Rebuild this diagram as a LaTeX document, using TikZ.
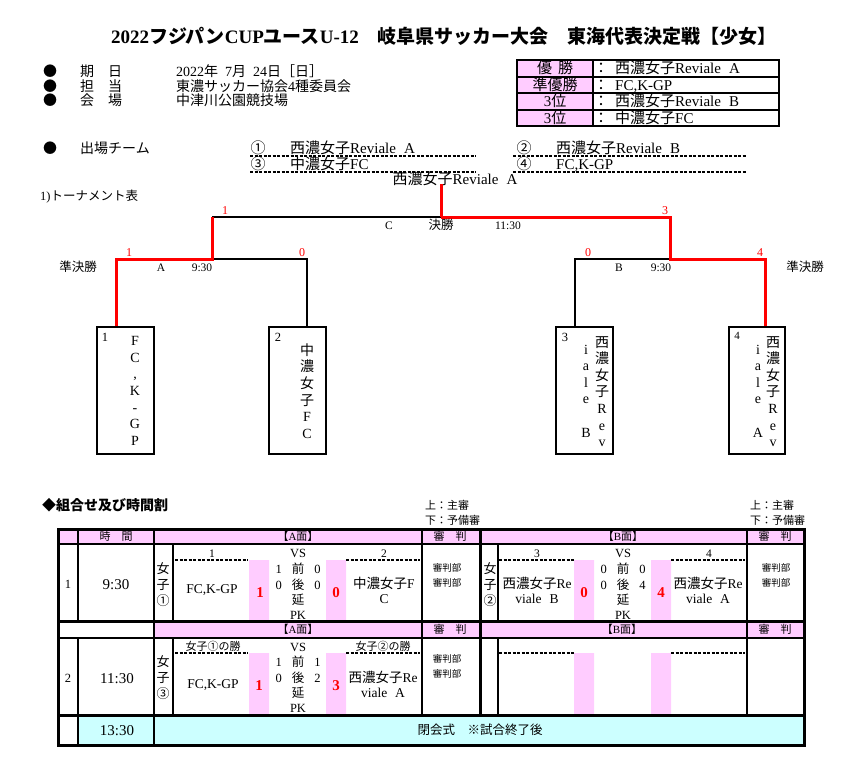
\documentclass[tikz,border=0pt]{standalone}
\usepackage{fontspec}
\setmainfont{Liberation Serif}
\newfontfamily\jpfont{Noto Sans CJK JP}
\newcommand{\jtxt}[1]{{\jpfont #1}}
\usepackage{tikz}
\usetikzlibrary{positioning}
\definecolor{winRed}{RGB}{255, 0, 0}
\definecolor{pinkFill}{RGB}{255, 204, 255}
\definecolor{cyanFill}{RGB}{204, 255, 255}
\tikzset{
    t_title/.style={
        inner sep=0pt,
        text height=13.5pt,
        text depth=0pt,
        font=\bfseries\fontsize{19}{21}\selectfont
    },
    t_l/.style={
        inner sep=0pt,
        text height=10.5pt,
        text depth=0pt,
        font=\fontsize{15}{17}\selectfont
    },
    t_m/.style={
        inner sep=0pt,
        text height=9.8pt,
        text depth=0pt,
        font=\fontsize{14}{16}\selectfont
    },
    t_s/.style={
        inner sep=0pt,
        text height=8.8pt,
        text depth=0pt,
        font=\fontsize{12.5}{15}\selectfont
    },
    t_xs/.style={
        inner sep=0pt,
        text height=7.7pt,
        text depth=0pt,
        font=\fontsize{11}{13}\selectfont
    },
    t_tiny/.style={
        inner sep=0pt,
        text height=8pt,
        text depth=0pt,
        font=\fontsize{11.5}{13}\selectfont
    },
    t_bold/.style={
        t_m,
        font=\bfseries\fontsize{14}{16}\selectfont
    },
    t_score/.style={
        t_l,
        text=winRed,
        font=\bfseries\fontsize{15}{17}\selectfont
    },
    t_red/.style={
        t_tiny,
        text=winRed,
        font=\fontsize{12}{14}\selectfont
    },
    t_vert/.style={
        inner sep=0pt,
        align=center,
        font=\fontsize{14}{16.6}\selectfont
    },
    t_vert_s/.style={
        inner sep=0pt,
        align=center,
        font=\fontsize{13}{16}\selectfont
    },
    t_team/.style={
        inner sep=0pt,
        align=center,
        font=\fontsize{13.5}{15}\selectfont
    },
    t_ref/.style={
        inner sep=0pt,
        align=center,
        font=\jpfont\fontsize{9.5}{15}\selectfont
    },
    team_box/.style={
        draw,
        line width=2pt,
        minimum width=57pt,
        minimum height=127pt,
        inner sep=0pt
    },
    win_line/.style={
        draw=winRed,
        line width=3pt
    },
    lose_line/.style={
        draw=black,
        line width=2pt
    },
    tbl_thick/.style={
        line width=3pt
    },
    tbl_mid/.style={
        line width=2pt
    },
    dash_line/.style={
        line width=1.3pt,
        dash pattern=on 3pt off 1.5pt
    }
}
\begin{document}
\begin{tikzpicture}[x=1pt, y=-1pt]
    \useasboundingbox (0,0) rectangle (852,760);

    \node[t_title] (title) at (444,37) {2022\jtxt{フジパン}CUP\jtxt{ユース}U-12\jtxt{　岐阜県サッカー大会　東海代表決定戦【少女】}};

    \node[t_m] (dot1) at (50,72) {\jtxt{●}};
    \node[t_m] (dot2) at (50,87) {\jtxt{●}};
    \node[t_m] (dot3) at (50,101) {\jtxt{●}};
    \node[t_m, anchor=west] (lab1) at (80,72) {\jtxt{期　日}};
    \node[t_m, anchor=west] (lab2) at (80,87) {\jtxt{担　当}};
    \node[t_m, anchor=west] (lab3) at (80,101) {\jtxt{会　場}};
    \node[t_m, anchor=west] (val1) at (176,72) {2022\jtxt{年}\hspace{7pt}7\jtxt{月}\hspace{7pt}24\jtxt{日［日］}};
    \node[t_m, anchor=west] (val2) at (176,87) {\jtxt{東濃サッカー協会}4\jtxt{種委員会}};
    \node[t_m, anchor=west] (val3) at (176,101) {\jtxt{中津川公園競技場}};

    \draw[line width=1.5pt, fill=pinkFill] (517,60) rectangle (593,126);
    \draw[line width=1.5pt] (517,60) rectangle (779,126);
    \draw[line width=1.2pt] (517,77) -- (779,77) (517,93) -- (779,93) (517,110) -- (779,110);
    \node[t_l] (res1) at (555,68.5) {\jtxt{優\hspace{6pt}勝}};
    \node[t_l] (res2) at (555,85) {\jtxt{準優勝}};
    \node[t_l] (res3) at (555,101.5) {3\jtxt{位}};
    \node[t_l] (res4) at (555,118) {3\jtxt{位}};
    \node[t_l] (col1) at (601,68.5) {\jtxt{：}};
    \node[t_l] (col2) at (601,85) {\jtxt{：}};
    \node[t_l] (col3) at (601,101.5) {\jtxt{：}};
    \node[t_l] (col4) at (601,118) {\jtxt{：}};
    \node[t_l, anchor=west] (win1) at (615,68.5) {\jtxt{西濃女子}Reviale\hspace{8pt}A};
    \node[t_l, anchor=west] (win2) at (615,85) {FC,K-GP};
    \node[t_l, anchor=west] (win3) at (615,101.5) {\jtxt{西濃女子}Reviale\hspace{8pt}B};
    \node[t_l, anchor=west] (win4) at (615,118) {\jtxt{中濃女子}FC};

    \node[t_m] (dot4) at (50,149) {\jtxt{●}};
    \node[t_m, anchor=west] (teams) at (80,149) {\jtxt{出場チーム}};
    \node[t_l] (e1) at (258,148) {\jtxt{①}};
    \node[t_l] (e2) at (524,148) {\jtxt{②}};
    \node[t_l] (e3) at (258,164) {\jtxt{③}};
    \node[t_l] (e4) at (524,164) {\jtxt{④}};
    \node[t_l, anchor=west] (e1n) at (290,148) {\jtxt{西濃女子}Reviale\hspace{8pt}A};
    \node[t_l, anchor=west] (e2n) at (556,148) {\jtxt{西濃女子}Reviale\hspace{8pt}B};
    \node[t_l, anchor=west] (e3n) at (290,164) {\jtxt{中濃女子}FC};
    \node[t_l, anchor=west] (e4n) at (556,164) {FC,K-GP};
    \draw[dash_line] (250,156) -- (476,156) (513,156) -- (746,156);
    \draw[dash_line] (250,172) -- (476,172) (513,172) -- (746,172);
    \node[t_l] (champ) at (455,179) {\jtxt{西濃女子}Reviale\hspace{8pt}A};

    \node[t_s, anchor=west] (tour) at (40,196) {1)\jtxt{トーナメント表}};

    \node[team_box] (b1) at (125.5,390.5) {};
    \node[team_box] (b2) at (297.5,390.5) {};
    \node[team_box] (b3) at (584.5,390.5) {};
    \node[team_box, minimum width=56pt] (b4) at (757,390.5) {};
    \node[t_s] (b1n) at (105,337) {1};
    \node[t_s] (b2n) at (278,337) {2};
    \node[t_s] (b3n) at (565,337) {3};
    \node[t_xs] (b4n) at (737,336) {4};
    \node[t_vert] (b1t) at (135,391) {F\\C\\,\\K\\-\\G\\P};
    \node[t_vert] (b2t) at (307,391) {\jtxt{中}\\\jtxt{濃}\\\jtxt{女}\\\jtxt{子}\\F\\C};
    \node[t_vert] (b3r) at (602,391.5) {\jtxt{西}\\\jtxt{濃}\\\jtxt{女}\\\jtxt{子}\\R\\e\\v};
    \node[t_vert] (b3l) at (586,391) {i\\a\\l\\e\\~\\B};
    \node[t_vert] (b4r) at (773,391.5) {\jtxt{西}\\\jtxt{濃}\\\jtxt{女}\\\jtxt{子}\\R\\e\\v};
    \node[t_vert] (b4l) at (758,391) {i\\a\\l\\e\\~\\A};

    \coordinate (fL) at (212,217);
    \coordinate (fin) at (441,217);
    \coordinate (fR) at (670,217);
    \coordinate (sLl) at (116,259);
    \coordinate (sLm) at (212,259);
    \coordinate (sLr) at (307,259);
    \coordinate (sRl) at (575,259);
    \coordinate (sRm) at (670,259);
    \coordinate (sRr) at (765,259);

    \draw[lose_line] (fL) -- (fin);
    \draw[lose_line] (sLm) -- (sLr) -- (sLr |- b2.north);
    \draw[lose_line] (b3.north -| sRl) -- (sRl) -- (sRm);
    \draw[win_line] (b1.north -| sLl) -- (sLl) -- (sLm) -- (fL);
    \draw[win_line] (b4.north -| sRr) -- (sRr) -- (sRm) -- (fR) -- (fin);
    \draw[win_line] (fin) -- (fin |- champ.south);

    \node[t_red] (fLs) at (225,210) {1};
    \node[t_red] (fRs) at (665,210) {3};
    \node[t_red] (b1s) at (129,252) {1};
    \node[t_red] (b2s) at (302,252) {0};
    \node[t_red] (b3s) at (588,252) {0};
    \node[t_red] (b4s) at (760,252) {4};
    \node[t_tiny] (gC) at (389,225) {C};
    \node[t_s] (gF) at (441,225) {\jtxt{決勝}};
    \node[t_tiny] (gCt) at (508,225) {11:30};
    \node[t_tiny] (gA) at (161,267) {A};
    \node[t_tiny] (gAt) at (202,267) {9:30};
    \node[t_tiny] (gB) at (619,267) {B};
    \node[t_tiny] (gBt) at (661,267) {9:30};
    \node[t_s] (semiL) at (78,267) {\jtxt{準決勝}};
    \node[t_s] (semiR) at (805,267) {\jtxt{準決勝}};

    \node[t_bold, anchor=west] (plan) at (42,506) {\jtxt{◆組合せ及び時間割}};
    \node[t_xs, anchor=west] (refA1) at (425,506) {\jtxt{上：主審}};
    \node[t_xs, anchor=west] (refA2) at (425,521) {\jtxt{下：予備審}};
    \node[t_xs, anchor=west] (refB1) at (750,506) {\jtxt{上：主審}};
    \node[t_xs, anchor=west] (refB2) at (750,521) {\jtxt{下：予備審}};

    \fill[pinkFill] (58,529) rectangle (804,544);
    \fill[pinkFill] (154,621) rectangle (804,638);
    \fill[pinkFill] (249,560) rectangle (269,621) (326,560) rectangle (346,621);
    \fill[pinkFill] (574,560) rectangle (594,621) (651,560) rectangle (671,621);
    \fill[pinkFill] (249,653) rectangle (269,715) (326,653) rectangle (346,715);
    \fill[pinkFill] (574,653) rectangle (594,715) (651,653) rectangle (671,715);
    \fill[cyanFill] (78,715) rectangle (804,745);

    \draw[tbl_mid] (58,544) -- (804,544) (58,638) -- (804,638);
    \draw[tbl_mid] (78,529) -- (78,621) (78,638) -- (78,745) (154,529) -- (154,745);
    \draw[tbl_mid] (173,544) -- (173,621) (173,638) -- (173,715);
    \draw[tbl_mid] (498,544) -- (498,621) (498,638) -- (498,715);
    \draw[tbl_mid] (422,529) -- (422,715) (747,529) -- (747,715);
    \draw[tbl_thick] (480,529) -- (480,715);
    \draw[tbl_thick] (58,621) -- (804,621) (58,715) -- (804,715);
    \draw[tbl_thick] (58,529) rectangle (804,745);
    \draw[dash_line] (175,560) -- (248,560) (346,560) -- (420,560);
    \draw[dash_line] (499,560) -- (574,560) (671,560) -- (745,560);
    \draw[dash_line] (175,653) -- (248,653) (346,653) -- (420,653);
    \draw[dash_line] (499,653) -- (574,653) (671,653) -- (745,653);

    \node[t_xs] (h1t) at (116,537) {\jtxt{時　間}};
    \node[t_xs] (h1a) at (298,537) {\jtxt{【}A\jtxt{面】}};
    \node[t_xs] (h1r) at (450,537) {\jtxt{審　判}};
    \node[t_xs] (h1b) at (623,537) {\jtxt{【}B\jtxt{面】}};
    \node[t_xs] (h1s) at (775,537) {\jtxt{審　判}};
    \node[t_xs] (h2a) at (298,630) {\jtxt{【}A\jtxt{面】}};
    \node[t_xs] (h2r) at (450,630) {\jtxt{審　判}};
    \node[t_xs] (h2b) at (622,630) {\jtxt{【}B\jtxt{面】}};
    \node[t_xs] (h2s) at (775,630) {\jtxt{審　判}};

    \node[t_s] (r1) at (68,584) {1};
    \node[t_l] (r1t) at (116,584) {9:30};
    \node[t_vert_s] (r1g) at (163,585) {\jtxt{女}\\\jtxt{子}\\\jtxt{①}};
    \node[t_tiny] (r1ka) at (212,553) {1};
    \node[t_s] (r1vs) at (298,553) {VS};
    \node[t_tiny] (r1kb) at (384,553) {2};
    \node[t_team] (r1ta) at (212,590) {FC,K-GP};
    \node[t_score] (r1sa) at (260,592) {1};
    \node[t_score] (r1sb) at (336,592) {0};
    \node[t_s] (r1p1) at (298,569) {1\hspace{10pt}\jtxt{前}\hspace{10pt}0};
    \node[t_s] (r1p2) at (298,585) {0\hspace{10pt}\jtxt{後}\hspace{10pt}0};
    \node[t_s] (r1p3) at (298,600) {\jtxt{延}};
    \node[t_s] (r1p4) at (298,615) {PK};
    \node[t_team] (r1tb) at (384,590) {\jtxt{中濃女子}F\\C};
    \node[t_ref] (r1ref) at (447,575) {審判部\\審判部};

    \node[t_vert_s] (r1gb) at (490,585) {\jtxt{女}\\\jtxt{子}\\\jtxt{②}};
    \node[t_tiny] (r1kc) at (537,553) {3};
    \node[t_s] (r1vsb) at (623,553) {VS};
    \node[t_tiny] (r1kd) at (709,553) {4};
    \node[t_team] (r1tc) at (537,590) {\jtxt{西濃女子}Re\\viale\hspace{8pt}B};
    \node[t_score] (r1sc) at (584,592) {0};
    \node[t_score] (r1sd) at (661,592) {4};
    \node[t_s] (r1q1) at (623,569) {0\hspace{10pt}\jtxt{前}\hspace{10pt}0};
    \node[t_s] (r1q2) at (623,585) {0\hspace{10pt}\jtxt{後}\hspace{10pt}4};
    \node[t_s] (r1q3) at (623,600) {\jtxt{延}};
    \node[t_s] (r1q4) at (623,615) {PK};
    \node[t_team] (r1td) at (708,590) {\jtxt{西濃女子}Re\\viale\hspace{8pt}A};
    \node[t_ref] (r1refb) at (776,575) {審判部\\審判部};

    \node[t_s] (r2) at (68,678) {2};
    \node[t_l] (r2t) at (117,678) {11:30};
    \node[t_vert_s] (r2g) at (163,678) {\jtxt{女}\\\jtxt{子}\\\jtxt{③}};
    \node[t_xs] (r2ka) at (213,647) {\jtxt{女子①の勝}};
    \node[t_s] (r2vs) at (298,647) {VS};
    \node[t_xs] (r2kb) at (383,647) {\jtxt{女子②の勝}};
    \node[t_team] (r2ta) at (213,685) {FC,K-GP};
    \node[t_score] (r2sa) at (259,685) {1};
    \node[t_score] (r2sb) at (336,685) {3};
    \node[t_s] (r2p1) at (298,662) {1\hspace{10pt}\jtxt{前}\hspace{10pt}1};
    \node[t_s] (r2p2) at (298,678) {0\hspace{10pt}\jtxt{後}\hspace{10pt}2};
    \node[t_s] (r2p3) at (298,693) {\jtxt{延}};
    \node[t_s] (r2p4) at (298,708) {PK};
    \node[t_team] (r2tb) at (383,684) {\jtxt{西濃女子}Re\\viale\hspace{8pt}A};
    \node[t_ref] (r2ref) at (447,666) {審判部\\審判部};

    \node[t_l] (r3t) at (117,730) {13:30};
    \node[t_s] (r3c) at (480,730) {\jtxt{閉会式　※試合終了後}};
\end{tikzpicture}
\end{document}
